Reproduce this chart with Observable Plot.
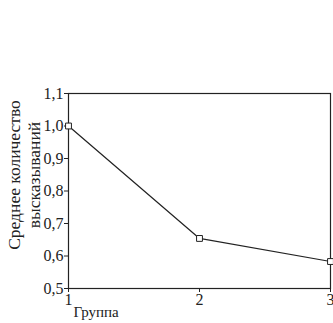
<!DOCTYPE html>
<html><head><meta charset="utf-8">
<script src="https://cdn.jsdelivr.net/npm/d3@7"></script>
<script src="https://cdn.jsdelivr.net/npm/@observablehq/plot@0.6"></script>
<style>
body{margin:0;background:#fff;} svg{display:block;}
</style>
</head><body><div id="chart"></div>
<script>
const groups = [1, 2, 3];
const means = [1.0, 0.654, 0.583];
const yTicks = [0.5, 0.6, 0.7, 0.8, 0.9, 1.0, 1.1];
const xTicks = [1, 2, 3];
const yLabel = "Среднее количество\nвысказываний";
const xLabel = "Группа";

const data = groups.map((g, i) => ({group: g, mean: means[i]}));
const fmt = d => d.toFixed(1).replace(".", ",");
const serif = "'Liberation Serif', 'DejaVu Serif', serif";

const plot = Plot.plot({
  width: 333, height: 323,
  marginLeft: 68, marginRight: 3, marginTop: 93, marginBottom: 35,
  style: {fontFamily: serif, fontSize: "16px", color: "#222", background: "#fff", overflow: "visible"},
  x: {domain: [1, 3], ticks: xTicks, label: null, tickFormat: d => String(d)},
  y: {domain: [0.5, 1.1], ticks: yTicks, label: null, tickFormat: fmt},
  marks: [
    Plot.frame({stroke: "#222", strokeWidth: 1.2}),
    Plot.axisX({ticks: xTicks, tickSize: 4, tickPadding: 1, fontSize: 16, tickFormat: d => String(d)}),
    Plot.axisY({ticks: yTicks, tickSize: 4, tickPadding: 1, fontSize: 16, tickFormat: fmt}),
    Plot.line(data, {x: "group", y: "mean", stroke: "#222", strokeWidth: 1.2}),
    Plot.dot(data, {x: "group", y: "mean", symbol: "square", r: 3.3, fill: "white", stroke: "#222", strokeWidth: 1}),
    Plot.text([yLabel], {frameAnchor: "left", textAnchor: "middle", rotate: -90, dx: -45, dy: -16, fontSize: 17.5, lineHeight: 1.17, fill: "#222", text: d => d}),
    Plot.text([xLabel], {frameAnchor: "bottom-left", dx: 5, dy: 28, textAnchor: "start", fontSize: 15, fill: "#222", text: d => d})
  ]
});
document.getElementById("chart").appendChild(plot);
</script></body></html>
